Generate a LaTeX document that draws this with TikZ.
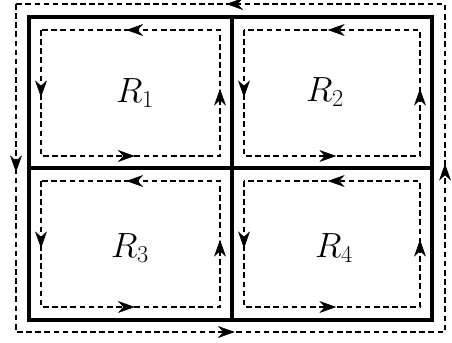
\documentclass[tikz,border=0pt]{standalone}
\usetikzlibrary{arrows.meta,decorations.markings}

\begin{document}
\begin{tikzpicture}[x=0.025cm,y=-0.025cm,
      region/.style={line width=2.4pt},
      flowline/.style={line width=0.9pt,dash pattern=on 4pt off 2.5pt},
      midarrow/.style={postaction={decorate,decoration={markings,
          mark=at position 0.5 with {\arrow[xshift=3pt]{Stealth[length=12pt,width=8.5pt]}}}}},
      lbl/.style={font=\fontsize{24}{28}\selectfont}]
    \useasboundingbox (0,0) rectangle (452,342);
    % the four cells
    \draw[region] (29,17) rectangle (432,320);
    \draw[region] (232,17) -- (232,320);
    \draw[region] (29,168) -- (432,168);
    \node[lbl] (r1) at (135,93) {$R_1$};
    \node[lbl] (r2) at (325,92) {$R_2$};
    \node[lbl] (r3) at (130,248) {$R_3$};
    \node[lbl] (r4) at (334,248) {$R_4$};
    % counterclockwise loops, inner ones and the outer one
    \foreach \xa/\ya/\xb/\yb in {41/30/220/156, 244/30/420/156,
        41/181/220/307, 244/181/420/307, 16/4/445/332} {
      \draw[flowline] (\xa,\ya) rectangle (\xb,\yb);
      \path[midarrow] (\xb,\ya) -- (\xa,\ya);
      \path[midarrow] (\xa,\ya) -- (\xa,\yb);
      \path[midarrow] (\xa,\yb) -- (\xb,\yb);
      \path[midarrow] (\xb,\yb) -- (\xb,\ya);
    }
  \end{tikzpicture}
\end{document}
